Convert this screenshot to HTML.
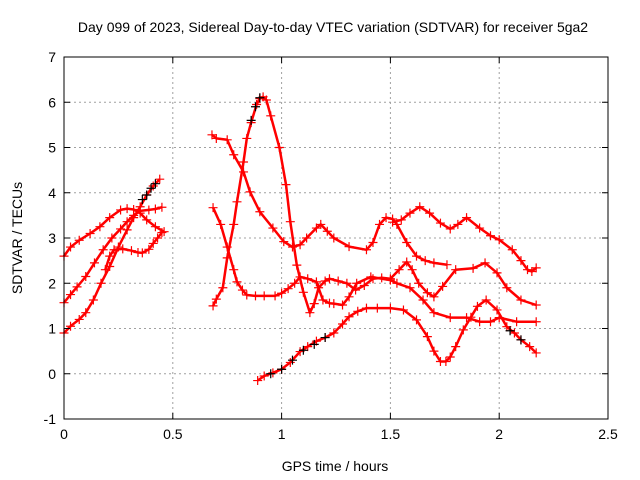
<!DOCTYPE html>
<html><head><meta charset="utf-8"><style>
html,body{margin:0;padding:0;background:#fff;}
svg{display:block;font-family:"Liberation Sans",sans-serif;}
</style></head><body>
<svg id="chart" width="640" height="480" viewBox="0 0 640 480">
<rect width="640" height="480" fill="#fff"/>
<text x="333" y="32" font-size="14" text-anchor="middle" fill="#000">Day 099 of 2023, Sidereal Day-to-day VTEC variation (SDTVAR) for receiver 5ga2</text>
<text x="335" y="471" font-size="14" text-anchor="middle" fill="#000">GPS time / hours</text>
<text transform="translate(22,238) rotate(-90)" font-size="14" text-anchor="middle" fill="#000">SDTVAR / TECUs</text>
<g id="grid"></g>
<g id="series"></g>
<g id="axes"></g>
</svg>
<script>
const xTicks = [0, 0.5, 1, 1.5, 2, 2.5];
const xTickLabels = ["0", "0.5", "1", "1.5", "2", "2.5"];
const yTicks = [-1, 0, 1, 2, 3, 4, 5, 6, 7];
const yTickLabels = ["-1", "0", "1", "2", "3", "4", "5", "6", "7"];

const tP = [0,0.03,0.07,0.1,0.135,0.17,0.21,0.25,0.29,0.32,0.35,0.38,0.41,0.44];
const vP = [0.9,1.05,1.2,1.35,1.63,2.0,2.37,2.8,3.18,3.45,3.69,3.95,4.15,4.3];
const tQ = [0,0.03,0.06,0.1,0.14,0.18,0.22,0.26,0.29,0.32,0.35,0.39,0.42,0.45];
const vQ = [1.57,1.75,1.92,2.15,2.45,2.74,3.0,3.2,3.36,3.5,3.6,3.62,3.64,3.68];
const tR = [0,0.03,0.07,0.12,0.165,0.21,0.26,0.29,0.32,0.35,0.38,0.42,0.46];
const vR = [2.6,2.8,2.95,3.1,3.25,3.45,3.62,3.65,3.63,3.55,3.4,3.25,3.14];
const tS = [0.19,0.21,0.23,0.27,0.31,0.34,0.36,0.39,0.41,0.43,0.45];
const vS = [2.3,2.6,2.74,2.76,2.72,2.68,2.67,2.75,2.88,3.0,3.12];
const tB1 = [0.685,0.7,0.73,0.75,0.78,0.795,0.825,0.84,0.86,0.885,0.9,0.915,0.93,0.95,0.99,1.02,1.04,1.07,1.1,1.13,1.15,1.17,1.2,1.22,1.26,1.3,1.34,1.38,1.42,1.46,1.5,1.54,1.575,1.6,1.63,1.67,1.7,1.74,1.8,1.88,1.935,1.99,2.035,2.1,2.17];
const vB1 = [1.5,1.65,1.9,2.56,3.3,3.8,4.68,5.2,5.55,5.95,6.08,6.12,6.05,5.7,5.0,4.18,3.36,2.4,1.8,1.35,1.55,1.9,2.05,2.1,2.05,2.0,1.85,1.95,2.1,2.12,2.1,2.3,2.47,2.3,2.0,1.79,1.7,1.93,2.3,2.33,2.45,2.23,1.9,1.63,1.52];
const tB2 = [0.68,0.7,0.75,0.78,0.825,0.855,0.9,0.96,1.01,1.05,1.085,1.115,1.16,1.18,1.21,1.24,1.31,1.39,1.42,1.45,1.48,1.51,1.53,1.575,1.62,1.66,1.7,1.76];
const vB2 = [5.28,5.2,5.17,4.84,4.46,4.02,3.58,3.22,2.92,2.8,2.85,3.0,3.22,3.3,3.15,3.0,2.81,2.74,2.9,3.3,3.45,3.42,3.3,2.9,2.6,2.5,2.45,2.41];
const tB2b = [1.51,1.55,1.59,1.635,1.68,1.73,1.775,1.81,1.85,1.91,1.96,2.0,2.06,2.1,2.13,2.15,2.17];
const vB2b = [3.35,3.4,3.55,3.69,3.55,3.33,3.2,3.3,3.45,3.22,3.05,2.96,2.74,2.5,2.3,2.26,2.34];
const tB3 = [0.685,0.72,0.75,0.78,0.795,0.82,0.84,0.88,0.92,0.97,1.0,1.03,1.06,1.085,1.12,1.16,1.19,1.22,1.24,1.28,1.31,1.345,1.41,1.5,1.53,1.59,1.65,1.7,1.775,1.85,1.91,1.96,2.0,2.08,2.17];
const vB3 = [3.67,3.3,2.8,2.3,2.03,1.85,1.74,1.72,1.72,1.72,1.78,1.88,2.0,2.14,2.1,2.03,1.63,1.56,1.55,1.52,1.7,2.0,2.14,2.07,2.0,1.9,1.63,1.35,1.24,1.24,1.15,1.15,1.24,1.15,1.15];
const tF = [0.89,0.92,0.96,1.0,1.04,1.085,1.12,1.16,1.2,1.24,1.28,1.31,1.35,1.39,1.44,1.5,1.56,1.62,1.67,1.7,1.73,1.755,1.775,1.8,1.835,1.87,1.9,1.94,1.99,2.035,2.07,2.1,2.14,2.17];
const vF = [-0.15,-0.05,0.02,0.1,0.25,0.49,0.6,0.72,0.8,0.9,1.1,1.26,1.38,1.45,1.45,1.45,1.41,1.19,0.82,0.5,0.27,0.27,0.37,0.6,0.97,1.25,1.49,1.63,1.41,1.04,0.9,0.75,0.6,0.46];
const tK = [0.36,0.38,0.4,0.42,0.86,0.88,0.9,0.95,1.0,1.05,1.1,1.15,1.2,2.05,2.1];
const vK = [3.85,3.95,4.1,4.2,5.6,5.9,6.1,0.0,0.1,0.3,0.52,0.65,0.8,0.95,0.75];

const L = 64, R = 608, T = 57, B = 419;
const X_MIN = 0, X_MAX = 2.5, Y_MIN = -1, Y_MAX = 7;
function xScale(t){ return L + (t - X_MIN) / (X_MAX - X_MIN) * (R - L); }
function yScale(v){ return B - (v - Y_MIN) / (Y_MAX - Y_MIN) * (B - T); }
const NS = "http://www.w3.org/2000/svg";
function mk(tag, attrs, parent){ const e = document.createElementNS(NS, tag); for (const k in attrs) e.setAttribute(k, attrs[k]); parent.appendChild(e); return e; }

const grid = document.getElementById('grid');
const axes = document.getElementById('axes');
xTicks.forEach((t, i) => {
  const x = xScale(t);
  if (t > X_MIN && t < X_MAX) {
    const g = mk('line', {x1:x, y1:T, x2:x, y2:B, stroke:'#a0a0a0', 'stroke-dasharray':'2,3', 'stroke-width':1}, grid);
    
    
  }
  const tk = mk('line', {x1:x, y1:B, x2:x, y2:B-6, stroke:'#000'}, axes);
  
  
  const tk2 = mk('line', {x1:x, y1:T, x2:x, y2:T+6, stroke:'#000'}, axes);
  
  
  const lb = mk('text', {x:x, y:B+20, 'font-size':14, 'text-anchor':'middle'}, axes);
  lb.textContent = xTickLabels[i];
  
  
});
yTicks.forEach((v, i) => {
  const y = yScale(v);
  if (v > Y_MIN && v < Y_MAX) {
    const g = mk('line', {x1:L, y1:y, x2:R, y2:y, stroke:'#a0a0a0', 'stroke-dasharray':'2,3', 'stroke-width':1}, grid);
    
    
  }
  const tk = mk('line', {x1:L, y1:y, x2:L+6, y2:y, stroke:'#000'}, axes);
  
  
  const tk2 = mk('line', {x1:R, y1:y, x2:R-6, y2:y, stroke:'#000'}, axes);
  
  
  const lb = mk('text', {x:L-8, y:y+5, 'font-size':14, 'text-anchor':'end'}, axes);
  lb.textContent = yTickLabels[i];
  
  
});
const frame = mk('rect', {x:L, y:T, width:R-L, height:B-T, fill:'none', stroke:'#000', 'stroke-width':1}, axes);



const layer = document.getElementById('series');
function drawSeries(ts, vs, color, name, withLine){
  const g = mk('g', {}, layer);
  
  
  if (withLine) {
    const pts = ts.map((t, i) => xScale(t).toFixed(1) + ',' + yScale(vs[i]).toFixed(1)).join(' ');
    const pl = mk('polyline', {points:pts, fill:'none', stroke:color, 'stroke-width':2.5, 'stroke-linejoin':'round'}, g);
    
    
  }
  ts.forEach((t, i) => {
    const x = xScale(t), y = yScale(vs[i]);
    const p = mk('path', {d:`M${x-4.5},${y}H${x+4.5}M${x},${y-4.5}V${y+4.5}`, stroke:color, 'stroke-width':1.2, fill:'none'}, g);
    
    
  });
}
drawSeries(tP, vP, '#ff0000', 'series-p', true);
drawSeries(tQ, vQ, '#ff0000', 'series-q', true);
drawSeries(tR, vR, '#ff0000', 'series-r', true);
drawSeries(tS, vS, '#ff0000', 'series-s', true);
drawSeries(tB1, vB1, '#ff0000', 'series-b1', true);
drawSeries(tB2, vB2, '#ff0000', 'series-b2', true);
drawSeries(tB2b, vB2b, '#ff0000', 'series-b2b', true);
drawSeries(tB3, vB3, '#ff0000', 'series-b3', true);
drawSeries(tF, vF, '#ff0000', 'series-f', true);
drawSeries(tK, vK, '#000000', 'series-black', false);
</script>
</body></html>
